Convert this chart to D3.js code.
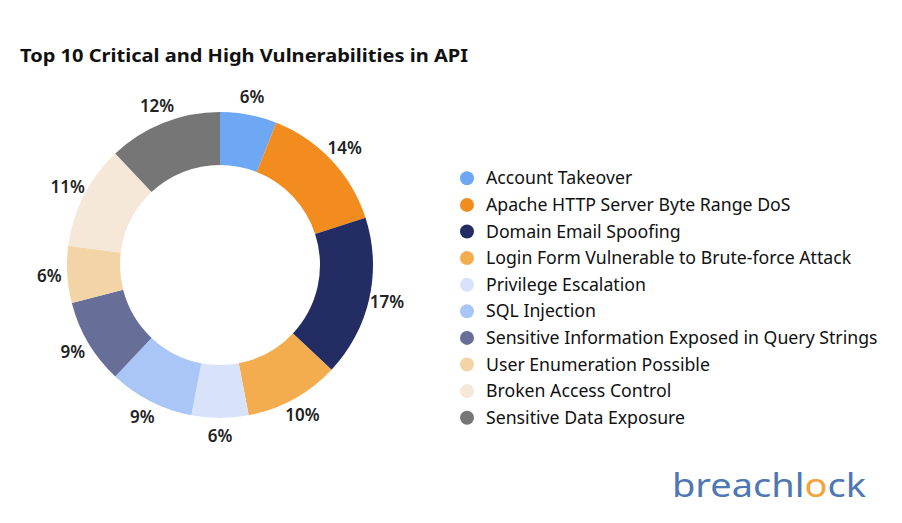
<!DOCTYPE html>
<html><head><meta charset="utf-8">
<script src="https://cdn.jsdelivr.net/npm/d3@7"></script>
<style>body{margin:0;background:#fff}svg{font-family:"Noto Sans",sans-serif}</style>
</head><body>
<svg id="c" width="902" height="523"></svg>
<script>
const categories=["Account Takeover","Apache HTTP Server Byte Range DoS","Domain Email Spoofing","Login Form Vulnerable to Brute-force Attack","Privilege Escalation","SQL Injection","Sensitive Information Exposed in Query Strings","User Enumeration Possible","Broken Access Control","Sensitive Data Exposure"];
const values=[6,14,17,10,6,9,9,6,11,12];
const colors=["#6ea8f5","#f28c1e","#232d63","#f4ad4e","#d8e3fb","#a9c6f7","#676f98","#f3d4a6","#f5e8d8","#767676"];
const svg=d3.select("#c");
svg.append("text").attr("x",20).attr("y",62).attr("font-size",18).attr("font-weight",700).attr("fill","#111")
 .attr("textLength",448).attr("lengthAdjust","spacingAndGlyphs").text("Top 10 Critical and High Vulnerabilities in API");
const g=svg.append("g").attr("transform","translate(220,265)");
const pie=d3.pie().sort(null).value(d=>d)(values);
const arc=d3.arc().innerRadius(100).outerRadius(153);
g.selectAll("path").data(pie).join("path").attr("d",arc).attr("fill",(d,i)=>colors[i]);
const la=d3.arc().innerRadius(171).outerRadius(171);
g.selectAll("text").data(pie).join("text").attr("transform",d=>`translate(${la.centroid(d)})`)
 .attr("text-anchor","middle").attr("dy","0.35em").attr("font-size",17).attr("font-weight",600).attr("fill","#222")
 .text(d=>d.data+"%");
const y=d3.scaleBand().domain(categories).range([165,431]);
const lg=svg.append("g");
categories.forEach((c,i)=>{
 const yy=y(c)+y.bandwidth()/2;
 lg.append("circle").attr("cx",467).attr("cy",yy).attr("r",7).attr("fill",colors[i]);
 lg.append("text").attr("x",486).attr("y",yy).attr("dy","0.35em").attr("font-size",17.7).attr("fill","#111").text(c);
});
const logo=svg.append("text").attr("x",672).attr("y",497).attr("font-size",33).attr("fill","#4d77b5")
 .attr("textLength",194).attr("lengthAdjust","spacingAndGlyphs");
logo.append("tspan").text("breachl");
logo.append("tspan").attr("fill","#f2a33a").text("o");
logo.append("tspan").text("ck");
</script>
</body></html>
